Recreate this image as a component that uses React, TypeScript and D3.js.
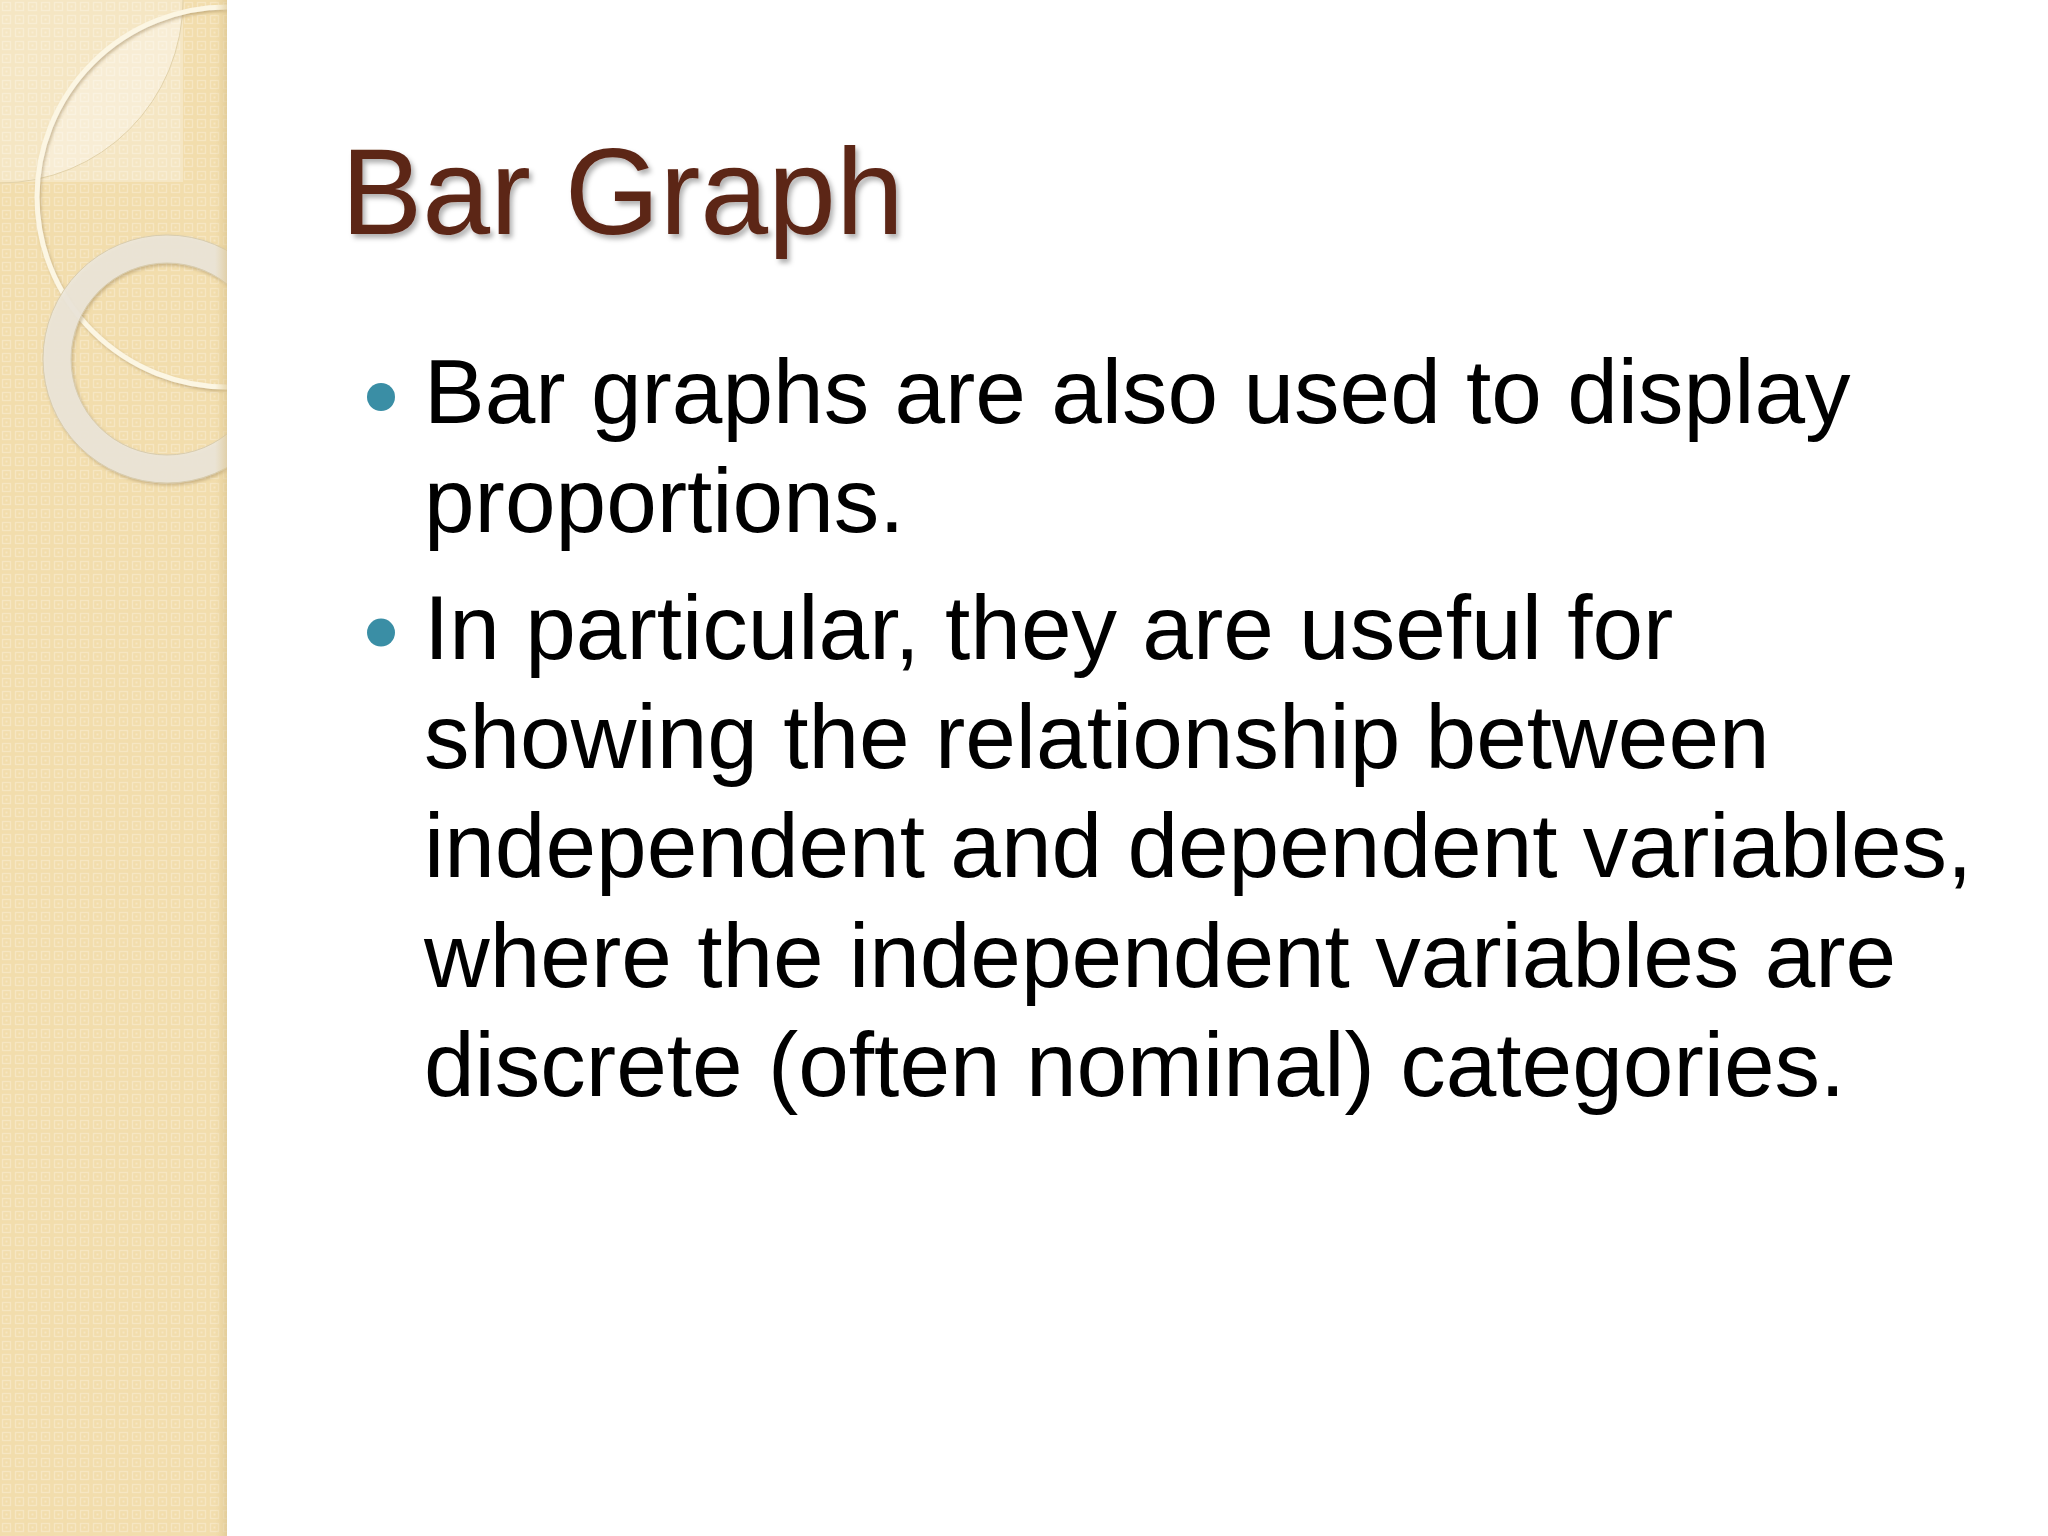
import React from "react"
import * as d3 from "d3"

// slide text
const titleText = "Bar Graph"
const bullets: string[][] = [
  ["Bar graphs are also used to display", "proportions."],
  [
    "In particular, they are useful for",
    "showing the relationship between",
    "independent and dependent variables,",
    "where the independent variables are",
    "discrete (often nominal) categories.",
  ],
]

const W = 2048
const H = 1536
const SIDEBAR = 227
const LINE_STEP = 109.3
const PARA_GAP = 17

export default function App() {
  // running line index -> baseline
  const lineY = d3.scaleLinear().domain([0, 1]).range([423, 423 + LINE_STEP])

  const rows: { text: string; y: number; first: boolean }[] = []
  let idx = 0
  let extra = 0
  bullets.forEach((para, p) => {
    if (p > 0) extra += PARA_GAP
    para.forEach((t, i) => {
      rows.push({ text: t, y: lineY(idx) + extra, first: i === 0 })
      idx++
    })
  })

  const font = "'Liberation Sans', Arial, sans-serif"

  return (
    <svg
      width={W}
      height={H}
      viewBox={`0 0 ${W} ${H}`}
      style={{ position: "absolute", left: 0, top: 0, display: "block" }}
    >
      <defs>
        <pattern id="weave" width={13} height={13} patternUnits="userSpaceOnUse">
          <rect width={13} height={13} fill="#f2ddac" />
          <rect x={2.5} y={2.5} width={8} height={8} fill="none" stroke="#f6e6c2" strokeWidth={1.4} />
          <rect x={5.5} y={5.5} width={2} height={2} fill="#f6e6c2" />
        </pattern>
        <linearGradient id="edge" x1="0" x2="1" y1="0" y2="0">
          <stop offset="0" stopColor="#e3cd98" stopOpacity={0} />
          <stop offset="1" stopColor="#d9c28c" stopOpacity={0.6} />
        </linearGradient>
        <clipPath id="side">
          <rect x={0} y={0} width={SIDEBAR} height={H} />
        </clipPath>
        <clipPath id="circA">
          <circle cx={0} cy={0} r={183} />
        </clipPath>
        <filter id="ringShadow" x="-20%" y="-20%" width="140%" height="140%">
          <feDropShadow dx={1.5} dy={2} stdDeviation={1.5} floodColor="#8a7040" floodOpacity={0.4} />
        </filter>
        <filter id="titleShadow" x="-10%" y="-20%" width="120%" height="150%">
          <feDropShadow dx={3} dy={4} stdDeviation={2.5} floodColor="#000" floodOpacity={0.3} />
        </filter>
      </defs>

      <rect width={W} height={H} fill="#ffffff" />

      {/* left decorative panel */}
      <g clipPath="url(#side)">
        <rect x={0} y={0} width={SIDEBAR} height={H} fill="url(#weave)" />
        <rect x={0} y={0} width={183} height={182} fill="#ffffff" opacity={0.28} />
        <g clipPath="url(#circA)">
          <circle cx={227} cy={197} r={190} fill="#ffffff" opacity={0.3} />
        </g>
        <circle cx={0} cy={0} r={183} fill="none" stroke="#e2d2aa" strokeWidth={1} />
        <circle
          cx={227}
          cy={197}
          r={190}
          fill="none"
          stroke="#fcf6e3"
          strokeWidth={5}
          filter="url(#ringShadow)"
        />
        <g filter="url(#ringShadow)">
          <circle cx={167} cy={359} r={110} fill="none" stroke="#ece7da" strokeWidth={28} opacity={0.9} />
          <circle cx={167} cy={359} r={124} fill="none" stroke="#d8ccae" strokeWidth={1} />
          <circle cx={167} cy={359} r={96} fill="none" stroke="#d8ccae" strokeWidth={1} />
        </g>
        <rect x={SIDEBAR - 12} y={0} width={12} height={H} fill="url(#edge)" />
      </g>

      {/* title */}
      <text
        x={341}
        y={234}
        fontFamily={font}
        fontSize={122}
        fill="#5c2516"
        filter="url(#titleShadow)"
      >
        {titleText}
      </text>

      {/* bullets */}
      {rows.map((r, i) => (
        <g key={i}>
          {r.first && <circle cx={381} cy={r.y - 26} r={14} fill="#3a8ea5" />}
          <text x={424} y={r.y} fontFamily={font} fontSize={91} fill="#000000">
            {r.text}
          </text>
        </g>
      ))}
    </svg>
  )
}
